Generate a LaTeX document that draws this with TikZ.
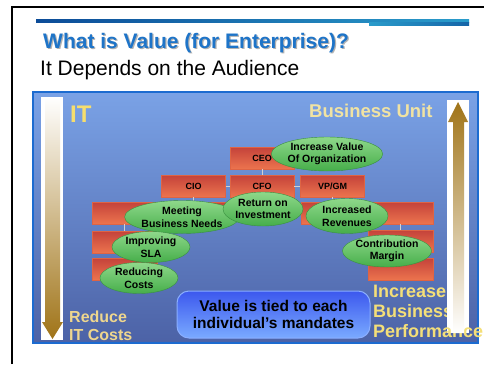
\documentclass[tikz,border=0pt]{standalone}
\usepackage{fontspec}
\setmainfont{Liberation Sans}
\usetikzlibrary{shapes.geometric}

\definecolor{titleblue}{HTML}{1E74C8}
\definecolor{bardark}{HTML}{0C4C98}
\definecolor{barlight}{HTML}{2A9CCB}
\definecolor{paneltop}{HTML}{7AA2E6}
\definecolor{panelmid}{HTML}{6C92DC}
\definecolor{panelbottom}{HTML}{4C62A6}
\definecolor{paneledge}{HTML}{1C6BD0}
\definecolor{ityellow}{HTML}{F6DE6E}
\definecolor{buyellow}{HTML}{F1E3A2}
\definecolor{costyellow}{HTML}{EED68E}
\definecolor{incyellow}{HTML}{F4DF78}
\definecolor{rolered}{HTML}{C4423A}
\definecolor{roleorange}{HTML}{EC744E}
\definecolor{roleedge}{HTML}{DE6444}
\definecolor{goaltop}{HTML}{8ED88A}
\definecolor{goalbottom}{HTML}{46AE4A}
\definecolor{goaledge}{HTML}{3A9040}
\definecolor{calltop}{HTML}{3C58EE}
\definecolor{callbottom}{HTML}{7AAAFF}
\definecolor{calledge}{HTML}{8AAEFF}
\definecolor{arrowgold}{HTML}{F6C234}
\definecolor{arrowbrown}{HTML}{A07418}

\begin{document}
\begin{tikzpicture}[x=1pt,y=-1pt,
    rolebox/.style={rectangle,draw=roleedge,top color=rolered,bottom color=roleorange,
      minimum width=64,minimum height=22,inner sep=0,font=\bfseries\fontsize{9}{10}\selectfont},
    goal/.style={ellipse,draw=goaledge,top color=goaltop,bottom color=goalbottom,
      inner sep=0,align=center,font=\bfseries\fontsize{10.5}{12.5}\selectfont},
    link/.style={draw=gray!35,line width=1pt},
    sidetext/.style={anchor=base west,align=left,inner sep=0,
      font=\bfseries\fontsize{18}{20}\selectfont}]
  \useasboundingbox[fill=white] (0,0) rectangle (484,364);

  % slide frame and header bar
  \draw[line width=2.5pt] (12.2,364) -- (12.2,7) -- (484,7);
  \shade[left color=bardark,right color=barlight] (36,19) rectangle (469,22);
  \shade[left color=barlight,right color=bardark!70!barlight] (369,22) rectangle (469,25);

  \node[anchor=base west,inner sep=0,text=gray!60,font=\bfseries\fontsize{21}{24}\selectfont]
    (titleshadow) at (44.2,49.2) {What is Value (for Enterprise)?};
  \node[anchor=base west,inner sep=0,text=titleblue,font=\bfseries\fontsize{21}{24}\selectfont]
    (title) at (43,48) {What is Value (for Enterprise)?};
  \node[anchor=base west,inner sep=0,font=\fontsize{21}{24}\selectfont]
    (subtitle) at (40,75) {It Depends on the Audience};

  % main panel
  \shade[top color=paneltop,middle color=panelmid,bottom color=panelbottom] (33,92) rectangle (478,343);
  \draw[paneledge,line width=1.5pt] (33,92) rectangle (478,343);

  % left strip, arrow down
  \fill[white] (41,97) rectangle (63,340);
  \shade[top color=white,middle color=arrowgold,bottom color=arrowbrown]
    (45,97) -- (60,97) -- (60,322) -- (63,322) -- (52.5,339) -- (42,322) -- (45,322) -- cycle;

  \node[anchor=base west,inner sep=0,text=ityellow,font=\bfseries\fontsize{24}{26}\selectfont]
    (it) at (70,122) {IT};
  \node[anchor=base west,inner sep=0,text=buyellow,font=\bfseries\fontsize{18.5}{20}\selectfont]
    (bu) at (309,117) {Business Unit};
  % base of a multi-line node is its last line
  \node[sidetext,text=costyellow,font=\bfseries\fontsize{16}{18}\selectfont]
    (reduce) at (69,340) {Reduce\\IT Costs};

  % right strip, arrow up (text runs under it)
  \fill[white] (447,322) rectangle (469,333);
  \node[sidetext,text=incyellow] (increase) at (373,337) {Increase\\Business\\Performance};
  \fill[white] (447,100) rectangle (469,322);
  \shade[top color=arrowbrown,middle color=arrowgold,bottom color=white]
    (458,102) -- (468,122) -- (464,122) -- (464,333) -- (453,333) -- (453,122) -- (448,122) -- cycle;

  % org chart
  \node[rolebox] (ceo) at (262,158) {CEO};
  \node[rolebox] (cio) at (193.5,186) {CIO};
  \node[rolebox] (cfo) at (262,186) {CFO};
  \node[rolebox] (vpgm) at (332.5,186) {VP/GM};
  \node[rolebox,minimum width=133] (itmid) at (158.5,213) {};
  \node[rolebox,minimum width=132] (bumid) at (367,213) {};
  \node[rolebox,minimum width=65] (itlow) at (124.5,242) {};
  \node[rolebox,minimum width=65] (itbase) at (124.5,269) {};
  \node[rolebox,minimum width=65] (bulow) at (400.5,241) {};
  \node[rolebox,minimum width=65] (bubase) at (400.5,269) {};

  \draw[link] (ceo) -- (cfo);
  \draw[link] (cio) -- (cfo);
  \draw[link] (cfo) -- (vpgm);
  \draw[link] (cio.south) -- (cio.south |- itmid.north);
  \draw[link] (vpgm.south) -- (vpgm.south |- bumid.north);
  \draw[link] (itlow.north) -- (itlow.north |- itmid.south);
  \draw[link] (bulow.north) -- (bulow.north |- bumid.south);
  \draw[link] (itlow) -- (itbase);
  \draw[link] (bulow) -- (bubase);

  % what each role values
  \node[goal,minimum width=82,minimum height=34] (orgvalue) at (327,154) {Increase Value\\Of Organization};
  \node[goal,minimum width=88,minimum height=33] (needs) at (182,217) {Meeting\\Business Needs};
  \node[goal,minimum width=80,minimum height=34] (roi) at (263,209) {Return on\\Investment};
  \node[goal,minimum width=82,minimum height=35] (revenue) at (347,216) {Increased\\Revenues};
  \node[goal,minimum width=78,minimum height=31] (sla) at (151,247) {Improving\\SLA};
  \node[goal,minimum width=78,minimum height=31] (costs) at (139,278) {Reducing\\Costs};
  \node[goal,minimum width=80,minimum height=32] (margin) at (387,251) {Contribution\\Margin};

  \node[rectangle,rounded corners=12pt,draw=calledge,line width=1pt,
    top color=calltop,bottom color=callbottom,minimum width=193,minimum height=47,
    align=center,font=\bfseries\fontsize{15.5}{16.5}\selectfont]
    (mandates) at (273.5,314.5) {Value is tied to each\\individual’s mandates};
\end{tikzpicture}
\end{document}
